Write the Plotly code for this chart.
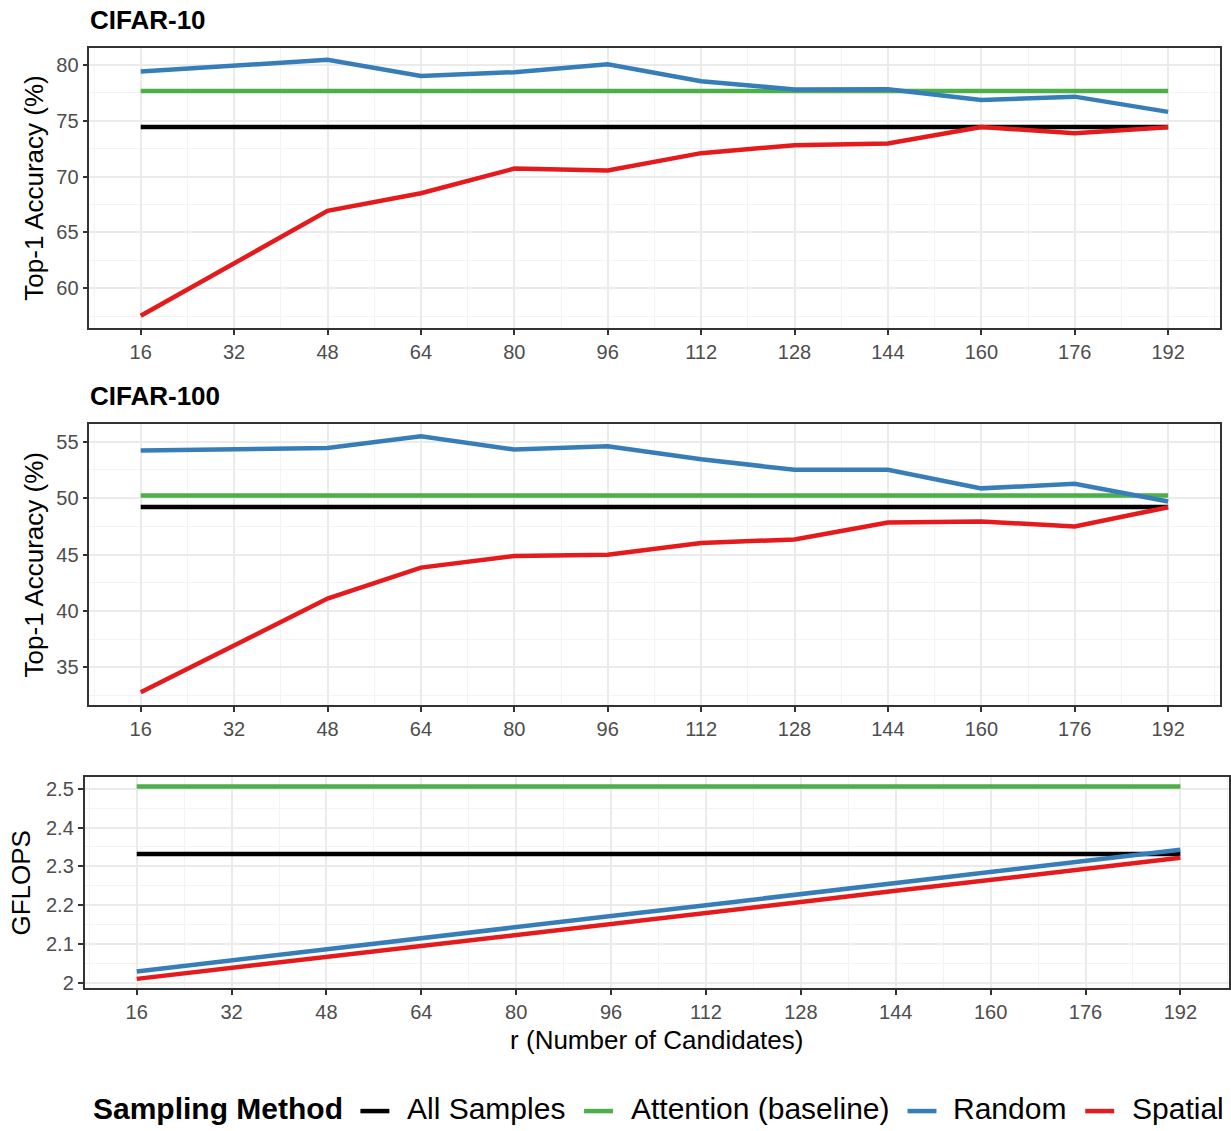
import plotly.graph_objects as go

r_vals = [16, 48, 64, 80, 96, 112, 128, 144, 160, 176, 192]
r_ends = [16, 192]

# CIFAR-10 top-1 accuracy (%)
c10_random = [79.38, 80.44, 78.98, 79.33, 80.04, 78.51, 77.78, 77.80, 76.83, 77.14, 75.78]
c10_spatial = [57.55, 66.93, 68.51, 70.71, 70.55, 72.09, 72.80, 72.95, 74.43, 73.87, 74.40]
c10_all = [74.42, 74.42]
c10_attn = [77.65, 77.65]

# CIFAR-100 top-1 accuracy (%)
c100_random = [54.21, 54.44, 55.47, 54.30, 54.59, 53.44, 52.50, 52.50, 50.86, 51.27, 49.69]
c100_spatial = [32.80, 41.10, 43.84, 44.87, 44.98, 46.01, 46.34, 47.84, 47.93, 47.48, 49.19]
c100_all = [49.21, 49.21]
c100_attn = [50.22, 50.22]

# GFLOPS
gf_random = [2.029, 2.087, 2.115, 2.144, 2.172, 2.200, 2.229, 2.258, 2.286, 2.315, 2.343]
gf_spatial = [2.010, 2.066, 2.095, 2.123, 2.152, 2.180, 2.208, 2.237, 2.265, 2.294, 2.322]
gf_all = [2.332, 2.332]
gf_attn = [2.506, 2.506]

x_ticks = [16, 32, 48, 64, 80, 96, 112, 128, 144, 160, 176, 192]
x_minor = [8, 24, 40, 56, 72, 88, 104, 120, 136, 152, 168, 184, 200]
gf_tickvals = [2.0, 2.1, 2.2, 2.3, 2.4, 2.5]
gf_ticktext = ["2", "2.1", "2.2", "2.3", "2.4", "2.5"]

methods = ["All Samples", "Attention (baseline)", "Random", "Spatial"]
colors = {"All Samples": "#000000", "Attention (baseline)": "#4DAF4A",
          "Random": "#377EB8", "Spatial": "#E41A1C"}

W, H = 1231, 1131
FONT = "Liberation Sans, Arial, sans-serif"

fig = go.Figure()

panels = [
    ("x", "y", {"All Samples": (r_ends, c10_all), "Attention (baseline)": (r_ends, c10_attn),
                "Random": (r_vals, c10_random), "Spatial": (r_vals, c10_spatial)}),
    ("x2", "y2", {"All Samples": (r_ends, c100_all), "Attention (baseline)": (r_ends, c100_attn),
                  "Random": (r_vals, c100_random), "Spatial": (r_vals, c100_spatial)}),
    ("x3", "y3", {"All Samples": (r_ends, gf_all), "Attention (baseline)": (r_ends, gf_attn),
                  "Random": (r_vals, gf_random), "Spatial": (r_vals, gf_spatial)}),
]

draw_order = ["Attention (baseline)", "All Samples", "Random", "Spatial"]
for xa, ya, data in panels:
    for m in draw_order:
        xs, ys = data[m]
        fig.add_trace(go.Scatter(
            x=xs, y=ys, mode="lines", name=m, showlegend=False,
            line=dict(color=colors[m], width=4.5),
            xaxis=xa, yaxis=ya, hoverinfo="skip"))


def px_x(p):
    return p / W


def px_y(p):
    return 1 - p / H


grid_major = "#EBEBEB"
grid_minor = "#F3F3F3"
tickfont = dict(family=FONT, size=20, color="#4D4D4D")
titlefont = dict(family=FONT, size=26, color="#000000")


def xaxis_cfg(domain, rng, anchor, title=None):
    d = dict(domain=domain, range=rng, anchor=anchor, tickmode="array", tickvals=x_ticks,
             ticks="outside", ticklen=5, tickwidth=1.5, tickcolor="#333333",
             showgrid=True, gridcolor=grid_major, gridwidth=2,
             minor=dict(tickmode="array", tickvals=x_minor,
                        showgrid=True, gridcolor=grid_minor, gridwidth=1, ticks=""),
             showline=True, linecolor="#333333", linewidth=1.5, mirror=True,
             zeroline=False, tickfont=tickfont)
    if title:
        d["title"] = dict(text=title, font=titlefont, standoff=9)
    return d


def yaxis_cfg(domain, rng, anchor, tickvals, minor_vals, title, ticktext=None, standoff=5):
    d = dict(domain=domain, range=rng, anchor=anchor, tickmode="array", tickvals=tickvals,
             ticks="outside", ticklen=5, tickwidth=1.5, tickcolor="#333333",
             showgrid=True, gridcolor=grid_major, gridwidth=2,
             minor=dict(tickmode="array", tickvals=minor_vals,
                        showgrid=True, gridcolor=grid_minor, gridwidth=1, ticks=""),
             showline=True, linecolor="#333333", linewidth=1.5, mirror=True,
             zeroline=False, tickfont=tickfont,
             title=dict(text=title, font=titlefont, standoff=standoff))
    if ticktext:
        d["ticktext"] = ticktext
    return d


x12_domain = [px_x(89.5), px_x(1221.5)]
x3_domain = [px_x(84.7), 1.0]

# manual legend layout (pixel positions of swatches and labels)
legend_y = 1114
legend_title_x = 91
swatch_x = [361, 585, 909, 1087]
swatch_w = 29
label_x = [406, 630, 953, 1132]

shapes = []
annotations = [
    dict(text="<b>CIFAR-10</b>", x=px_x(88), y=px_y(20), xref="paper", yref="paper",
         xanchor="left", yanchor="middle", showarrow=False,
         font=dict(family=FONT, size=26, color="#000000")),
    dict(text="<b>CIFAR-100</b>", x=px_x(88), y=px_y(398), xref="paper", yref="paper",
         xanchor="left", yanchor="middle", showarrow=False,
         font=dict(family=FONT, size=26, color="#000000")),
    dict(text="<b>Sampling Method</b>", x=px_x(legend_title_x), y=px_y(legend_y),
         xref="paper", yref="paper", xanchor="left", yanchor="middle", showarrow=False,
         font=dict(family=FONT, size=30, color="#000000")),
]
for m, sx, lx in zip(methods, swatch_x, label_x):
    shapes.append(dict(type="line", xref="paper", yref="paper",
                       x0=px_x(sx), x1=px_x(sx + swatch_w),
                       y0=px_y(legend_y + 3), y1=px_y(legend_y + 3),
                       line=dict(color=colors[m], width=4.5)))
    annotations.append(dict(text=m, x=px_x(lx), y=px_y(legend_y), xref="paper", yref="paper",
                            xanchor="left", yanchor="middle", showarrow=False,
                            font=dict(family=FONT, size=30, color="#000000")))

fig.update_layout(
    width=W, height=H,
    margin=dict(l=0, r=0, t=0, b=0),
    paper_bgcolor="white", plot_bgcolor="white",
    font=dict(family=FONT, color="#000000"),
    showlegend=False,
    xaxis=xaxis_cfg(x12_domain, [7.2, 200.8], "y"),
    xaxis2=xaxis_cfg(x12_domain, [7.2, 200.8], "y2"),
    xaxis3=xaxis_cfg(x3_domain, [7.2, 200.2], "y3", "r (Number of Candidates)"),
    yaxis=yaxis_cfg([px_y(330), px_y(48)], [56.44, 81.51], "x", [60, 65, 70, 75, 80],
                    [57.5, 62.5, 67.5, 72.5, 77.5], "Top-1 Accuracy (%)"),
    yaxis2=yaxis_cfg([px_y(709), px_y(426.5)], [31.65, 56.54], "x2", [35, 40, 45, 50, 55],
                     [32.5, 37.5, 42.5, 47.5, 52.5], "Top-1 Accuracy (%)"),
    yaxis3=yaxis_cfg([px_y(993.5), px_y(781.5)], [1.9859, 2.5295], "x3", gf_tickvals,
                     [2.05, 2.15, 2.25, 2.35, 2.45], "GFLOPS", ticktext=gf_ticktext, standoff=8),
    shapes=shapes,
    annotations=annotations,
)

fig.write_html("out.html")
